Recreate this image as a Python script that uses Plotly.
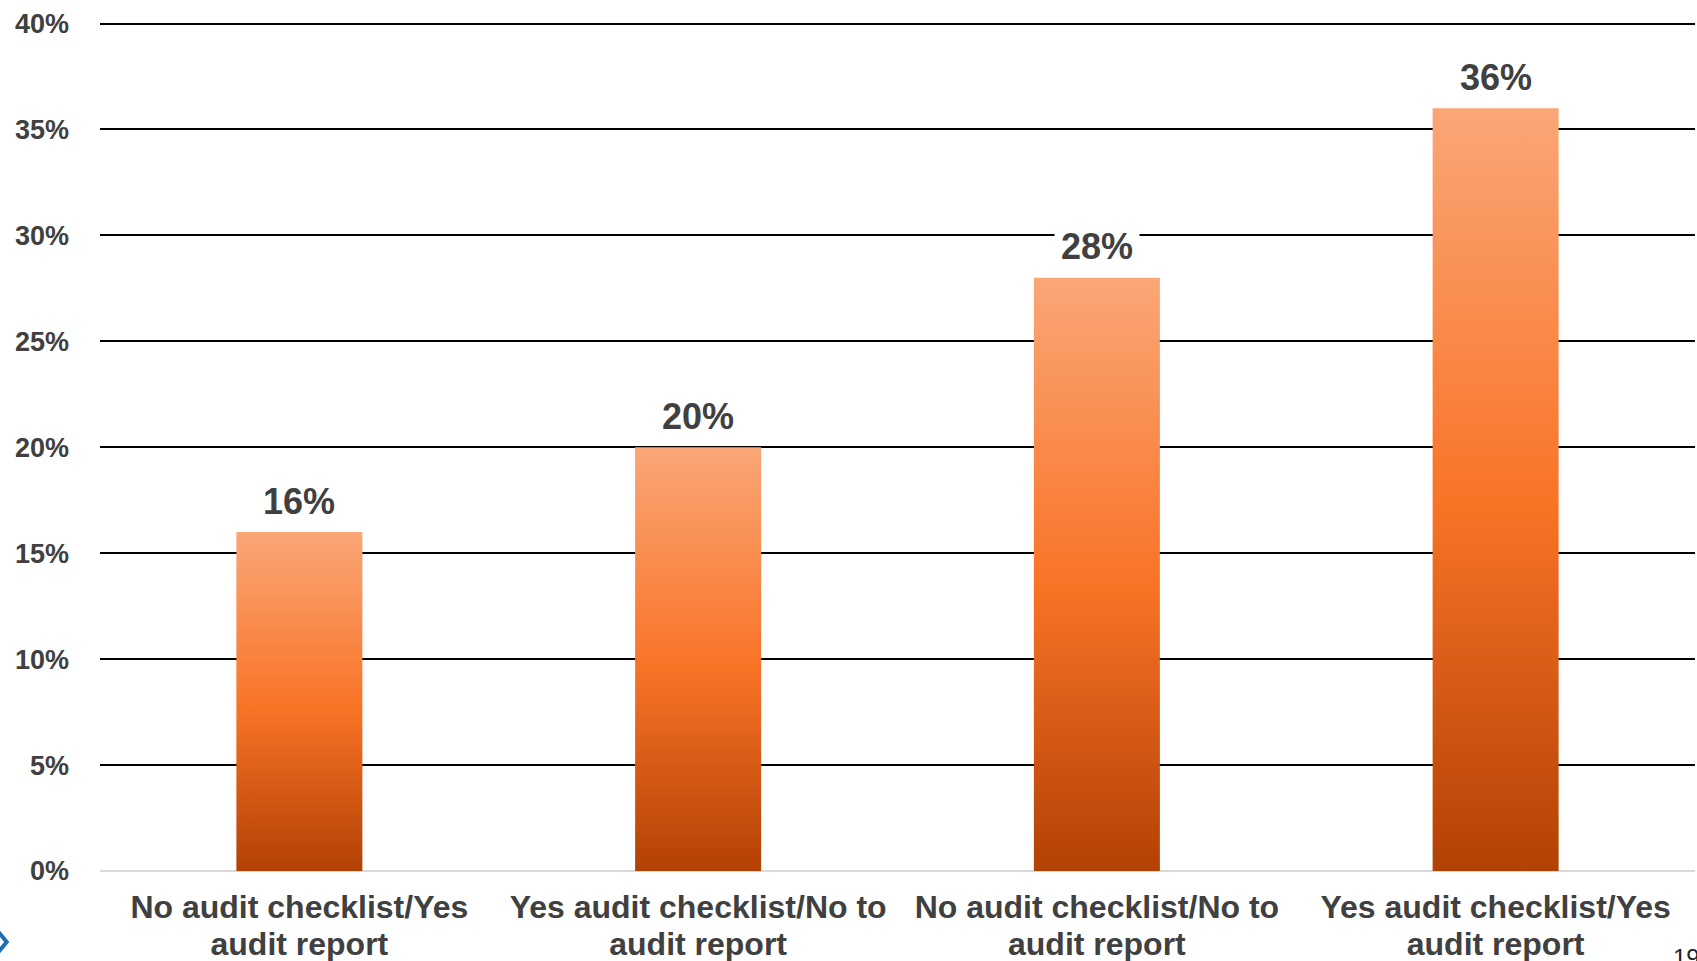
import plotly.graph_objects as go

# Survey results by audit checklist / audit report combination
categories = [
    "No audit checklist/Yes<br>audit report",
    "Yes audit checklist/No to<br>audit report",
    "No audit checklist/No to<br>audit report",
    "Yes audit checklist/Yes<br>audit report",
]
values = [0.16, 0.20, 0.28, 0.36]
value_labels = ["16%", "20%", "28%", "36%"]

TEXT = "#404040"
FONT = "Liberation Sans, Arial, sans-serif"
HALF_WIDTH = 0.158  # half bar width in category units
Y_TOP = 0.4012      # a hair above 40% so the top gridline is kept

# category labels are set as two tick rows for tighter line spacing
label_row1 = [c.split("<br>")[0] for c in categories]
label_row2 = [c.split("<br>")[1] for c in categories]
positions = list(range(len(categories)))

# dark at the base, bright orange mid-height, pale salmon at the top
bar_scale = [[0.0, "#B24104"], [0.48, "#F97326"], [1.0, "#FAA677"]]

fig = go.Figure()

for i, v in enumerate(values):
    fig.add_trace(go.Scatter(
        x=[i - HALF_WIDTH, i + HALF_WIDTH, i + HALF_WIDTH, i - HALF_WIDTH, i - HALF_WIDTH],
        y=[0, 0, v, v, 0],
        mode="lines",
        line=dict(width=0),
        fill="toself",
        fillgradient=dict(type="vertical", colorscale=bar_scale, start=0, stop=v),
        hoverinfo="skip",
        showlegend=False,
    ))
    fig.add_annotation(
        x=i, y=v, xref="x", yref="y",
        text=value_labels[i],
        showarrow=False,
        yanchor="middle", yshift=31,
        bgcolor="white", borderpad=6,
        font=dict(family=FONT, size=36, color=TEXT, weight="bold"),
    )

# carrier trace so the second label row axis is drawn
fig.add_trace(go.Scatter(
    x=positions, y=values, xaxis="x2", yaxis="y",
    mode="none", hoverinfo="skip", showlegend=False,
))

# slide footer: page number and blue chevron mark
fig.add_annotation(
    xref="paper", yref="paper", x=0.985, y=-0.084,
    xanchor="left", yanchor="top", text="19", showarrow=False,
    font=dict(family=FONT, size=24, color="#222222"),
)
fig.add_shape(
    type="path", xref="paper", yref="paper",
    path="M -0.0635 -0.072 L -0.0585 -0.0835 L -0.0635 -0.095",
    line=dict(color="#1B6FB5", width=4),
)

label_font = dict(family=FONT, size=32, color=TEXT, weight="bold")

fig.update_layout(
    width=1697, height=961,
    margin=dict(l=100, r=2, t=21, b=90),
    paper_bgcolor="white", plot_bgcolor="white",
    showlegend=False,
    xaxis=dict(
        range=[-0.5, 3.5], automargin=False,
        tickmode="array", tickvals=positions, ticktext=label_row1,
        showgrid=False, zeroline=False, showline=False,
        ticks="", ticklabelstandoff=14,
        tickfont=label_font,
    ),
    xaxis2=dict(
        overlaying="x", matches="x", anchor="y", side="bottom",
        range=[-0.5, 3.5], automargin=False,
        tickmode="array", tickvals=positions, ticktext=label_row2,
        showgrid=False, zeroline=False, showline=False,
        ticks="", ticklabelstandoff=51,
        tickfont=label_font,
    ),
    yaxis=dict(
        range=[0, Y_TOP], dtick=0.05, tickformat=".0%", automargin=False,
        showgrid=True, gridcolor="#000000", gridwidth=2,
        zeroline=True, zerolinecolor="#D9D9D9", zerolinewidth=2,
        showline=False, ticks="", ticklabelstandoff=30,
        tickfont=dict(family=FONT, size=27, color=TEXT, weight="bold"),
    ),
)

fig.write_html("out.html")
